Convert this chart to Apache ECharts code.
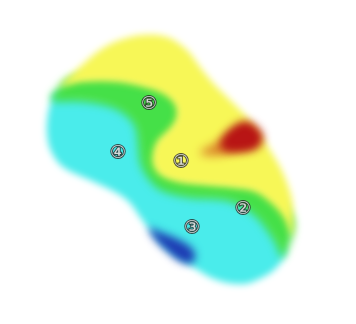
<!DOCTYPE html>
<html>
<head>
<meta charset="utf-8">
<script src="https://cdn.jsdelivr.net/npm/echarts@6/dist/echarts.min.js"></script>
<style>
html, body { margin: 0; padding: 0; background: #fff; }
#chart { width: 356px; height: 324px; }
</style>
</head>
<body>
<div id="chart"></div>
<script>
const chart = echarts.init(document.getElementById("chart"));

// zones (x east, y south), one polygon per colour band
const cyanZone = [[55,93],[83,95],[112,99],[130,108],[142,122],[146,147],[147,160],[153,170],[165,182],[185,190],[200,192],[227,194],[248,200],[264,212],[275,228],[282,242],[286,252],[277,267],[263,277],[243,284],[217,280],[193,267],[167,250],[152,233],[140,217],[130,203],[117,193],[90,180],[63,167],[51,151],[47,133],[48,114],[51,102]];
const greenZone = [[51,100],[83,102],[110,107],[125,115],[135,127],[138,147],[140,163],[147,177],[160,190],[183,197],[200,199],[227,201],[243,208],[257,218],[268,232],[276,245],[282,258],[288,248],[293,233],[294,222],[290,212],[277,197],[258,185],[233,181],[200,178],[179,175],[165,170],[160,163],[160,153],[164,143],[175,133],[183,119],[182,103],[168,87],[145,80],[117,75],[83,75],[67,79],[58,88]];
const yellowZone = [[61,86],[83,82],[117,82],[143,87],[163,94],[175,105],[176,118],[168,130],[158,140],[153,152],[153,165],[160,175],[177,182],[200,185],[233,188],[255,192],[272,204],[284,218],[292,236],[293,217],[292,200],[287,183],[280,167],[270,150],[260,133],[247,117],[230,100],[213,83],[200,67],[187,50],[167,37],[143,35],[120,40],[100,50],[82,65],[68,78]];
const orangeZone = [[200,153],[215,143],[232,133],[248,130],[252,145],[235,152],[215,156]];
const redZone = [[221,141],[231,128],[245,121],[257,127],[263,137],[258,148],[240,152],[223,150]];
const blueZone = [[149,228],[160,232],[175,238],[188,245],[195,254],[192,263],[180,261],[166,250],[155,239]];

const wells = [
	[181, 162, "①"],
	[243, 209, "②"],
	[192, 228, "③"],
	[118, 153, "④"],
	[149, 104, "⑤"]
];

const OFF = 3000; // shape drawn off canvas, only its blurred shadow shows

function zone(data, color, blur) {
	return {
		type: "custom",
		data: data,
		silent: true,
		renderItem: function (params, api) {
			if (params.context.rendered) return;
			params.context.rendered = true;
			const points = [];
			for (let i = 0; i < data.length; i++) {
				points.push(api.coord(data[i]));
			}
			return {
				type: "polygon",
				x: -OFF,
				shape: { points: points, smooth: 0.35 },
				style: {
					fill: color,
					shadowColor: color,
					shadowBlur: blur,
					shadowOffsetX: OFF
				}
			};
		}
	};
}

option = {
	animation: false,
	backgroundColor: "#fff",
	grid: { left: 0, right: 0, top: 0, bottom: 0 },
	xAxis: { type: "value", min: 0, max: 356, show: false },
	yAxis: { type: "value", min: 0, max: 324, inverse: true, show: false },
	series: [
		zone(cyanZone, "#4aeceb", 7),
		zone(greenZone, "#45e048", 8),
		zone(yellowZone, "#f7f757", 7),
		zone(orangeZone, "#dc8a2c", 10),
		zone(redZone, "#b81515", 8),
		zone(blueZone, "#1e3cb4", 9),
		{
			type: "scatter",
			data: wells,
			symbolSize: 0,
			silent: true,
			label: {
				show: true,
				position: "inside",
				formatter: function (p) { return p.value[2]; },
				color: "#fff",
				fontSize: 18,
				fontFamily: "DejaVu Sans",
				textBorderColor: "#222",
				textBorderWidth: 2
			}
		}
	]
};

chart.setOption(option);
window.onresize = chart.resize;
</script>
</body>
</html>
